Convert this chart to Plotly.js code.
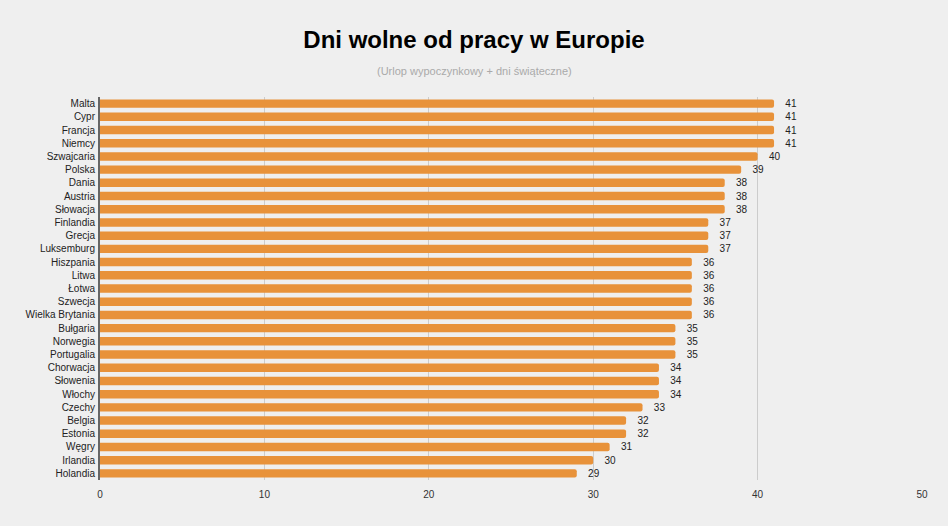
<!DOCTYPE html>
<html>
<head>
<meta charset="utf-8">
<script src="https://cdn.plot.ly/plotly-3.0.1.min.js"></script>
<style>
	html, body { margin: 0; padding: 0; background: #efefef; }
	#chart { width: 948px; height: 526px; }
</style>
</head>
<body>
<div id="chart"></div>
<script>
// kraje i liczba dni wolnych
var kraje = ['Malta', 'Cypr', 'Francja', 'Niemcy', 'Szwajcaria', 'Polska', 'Dania', 'Austria', 'Słowacja',
	'Finlandia', 'Grecja', 'Luksemburg', 'Hiszpania', 'Litwa', 'Łotwa', 'Szwecja', 'Wielka Brytania',
	'Bułgaria', 'Norwegia', 'Portugalia', 'Chorwacja', 'Słowenia', 'Włochy', 'Czechy', 'Belgia',
	'Estonia', 'Węgry', 'Irlandia', 'Holandia'];
var dni = [41, 41, 41, 41, 40, 39, 38, 38, 38, 37, 37, 37, 36, 36, 36, 36, 36, 35, 35, 35, 34, 34, 34, 33, 32, 32, 31, 30, 29];
var xTicks = [0, 10, 20, 30, 40, 50];

var bars = {
	x: dni,
	y: kraje,
	type: 'bar',
	orientation: 'h',
	marker: { color: '#e8923a', cornerradius: 2 },
	text: dni.map(String),
	texttemplate: '   %{text}',
	textposition: 'outside',
	constraintext: 'none',
	cliponaxis: false,
	textfont: { family: 'Liberation Sans, Arial, sans-serif', size: 10, color: '#222' },
	hoverinfo: 'none'
};

var layout = {
	width: 948,
	height: 526,
	paper_bgcolor: '#efefef',
	plot_bgcolor: '#efefef',
	margin: { l: 100, r: 26, t: 97, b: 46 },
	bargap: 0.36,
	showlegend: false,
	font: { family: 'Liberation Sans, Arial, sans-serif', size: 10, color: '#222' },
	title: {
		text: '<b>Dni wolne od pracy w Europie</b>',
		font: { family: 'Liberation Sans, Arial, sans-serif', size: 24, color: '#000' },
		x: 0.5, xanchor: 'center',
		y: 0.925, yanchor: 'middle'
	},
	annotations: [{
		text: '(Urlop wypoczynkowy + dni świąteczne)',
		xref: 'paper', yref: 'paper',
		x: 0.455, y: 1, xanchor: 'center', yanchor: 'middle',
		yshift: 26,
		showarrow: false,
		font: { family: 'Liberation Sans, Arial, sans-serif', size: 11, color: '#aaa' }
	}],
	xaxis: {
		range: [0, 50],
		tickvals: xTicks,
		ticktext: xTicks.map(String),
		showgrid: true,
		gridcolor: '#cccccc',
		gridwidth: 1,
		zeroline: false,
		showline: false,
		ticks: '',
		ticklabelstandoff: 7,
		tickfont: { size: 10, color: '#333' },
		fixedrange: true
	},
	yaxis: {
		autorange: 'reversed',
		showgrid: false,
		showline: true,
		linecolor: '#666',
		linewidth: 2,
		ticks: '',
		ticklabelstandoff: 1,
		tickfont: { size: 10, color: '#222' },
		fixedrange: true
	}
};

Plotly.newPlot('chart', [bars], layout, { displayModeBar: false, staticPlot: true });
</script>
</body>
</html>
